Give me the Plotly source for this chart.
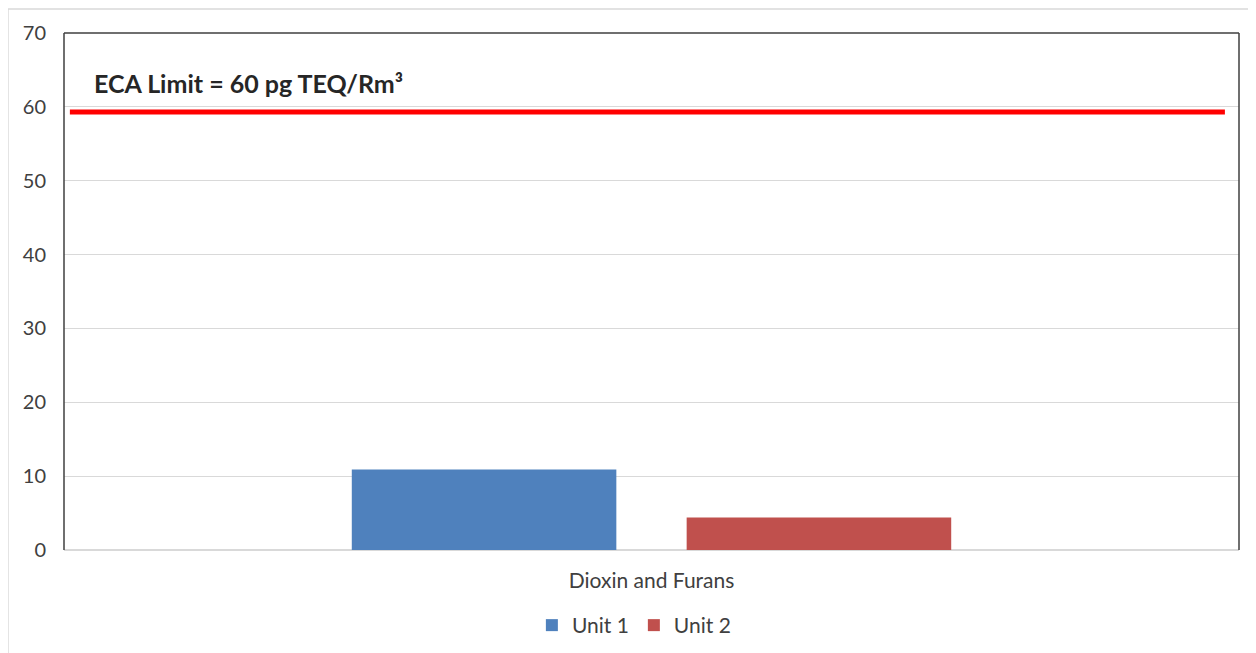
import plotly.graph_objects as go

categories = ["Dioxin and Furans"]
unit1 = [10.9]
unit2 = [4.4]
series_names = ["Unit 1", "Unit 2"]
limit_value = [59.3]
limit_label = "ECA Limit = 60 pg TEQ/Rm³"
y_ticks = [0, 10, 20, 30, 40, 50, 60, 70]

FONT = "Lato, 'Open Sans', sans-serif"

fig = go.Figure()
fig.add_trace(go.Bar(x=categories, y=unit1, name=series_names[0], marker=dict(color="#4F81BD", line=dict(width=0))))
fig.add_trace(go.Bar(x=categories, y=unit2, name=series_names[1], marker=dict(color="#C0504D", line=dict(width=0))))

# ECA limit line
fig.add_shape(type="line", xref="paper", yref="y", x0=0.005, x1=0.988,
              y0=limit_value[0], y1=limit_value[0], line=dict(color="#FF0000", width=5))

# plot frame: left, top, right
for (x0, y0, x1, y1) in [(0, 0, 0, 1), (0, 1, 1, 1), (1, 0, 1, 1)]:
    fig.add_shape(type="line", xref="paper", yref="paper", x0=x0, y0=y0, x1=x1, y1=y1,
                  line=dict(color="#3f3f3f", width=1.5))

# outer light frame
fig.add_shape(type="rect", xref="paper", yref="paper", x0=-0.0477, x1=1.03, y0=-0.25, y1=1.0465,
              line=dict(color="#d9d9d9", width=1.5), layer="below")

fig.add_annotation(x=0.024, y=1 - 50 / 520, xref="paper", yref="paper", xanchor="left", yanchor="middle",
                   text="<b>" + limit_label + "</b>", showarrow=False,
                   font=dict(family=FONT, size=25, color="#262626"))

fig.update_layout(
    width=1256, height=653,
    margin=dict(l=56, r=25, t=22, b=111),
    paper_bgcolor="white", plot_bgcolor="white",
    barmode="group", bargap=0.43, bargroupgap=0.21,
    font=dict(family=FONT, size=20, color="#404040"),
    showlegend=True,
    legend=dict(orientation="h", x=0.485, xanchor="center", y=-0.146, yanchor="middle",
                font=dict(size=21, color="#404040"), itemwidth=30, traceorder="normal"),
    xaxis=dict(showgrid=False, showline=False, ticks="", ticklabelstandoff=16,
               tickfont=dict(size=21, color="#404040")),
    yaxis=dict(range=[0, 70], tickvals=y_ticks, showgrid=True, gridcolor="#d9d9d9", gridwidth=1,
               zeroline=True, zerolinecolor="#d9d9d9", zerolinewidth=1.5, showline=False,
               ticks="", ticklabelstandoff=17, tickfont=dict(size=20, color="#404040")),
)

fig.write_html("out.html")
